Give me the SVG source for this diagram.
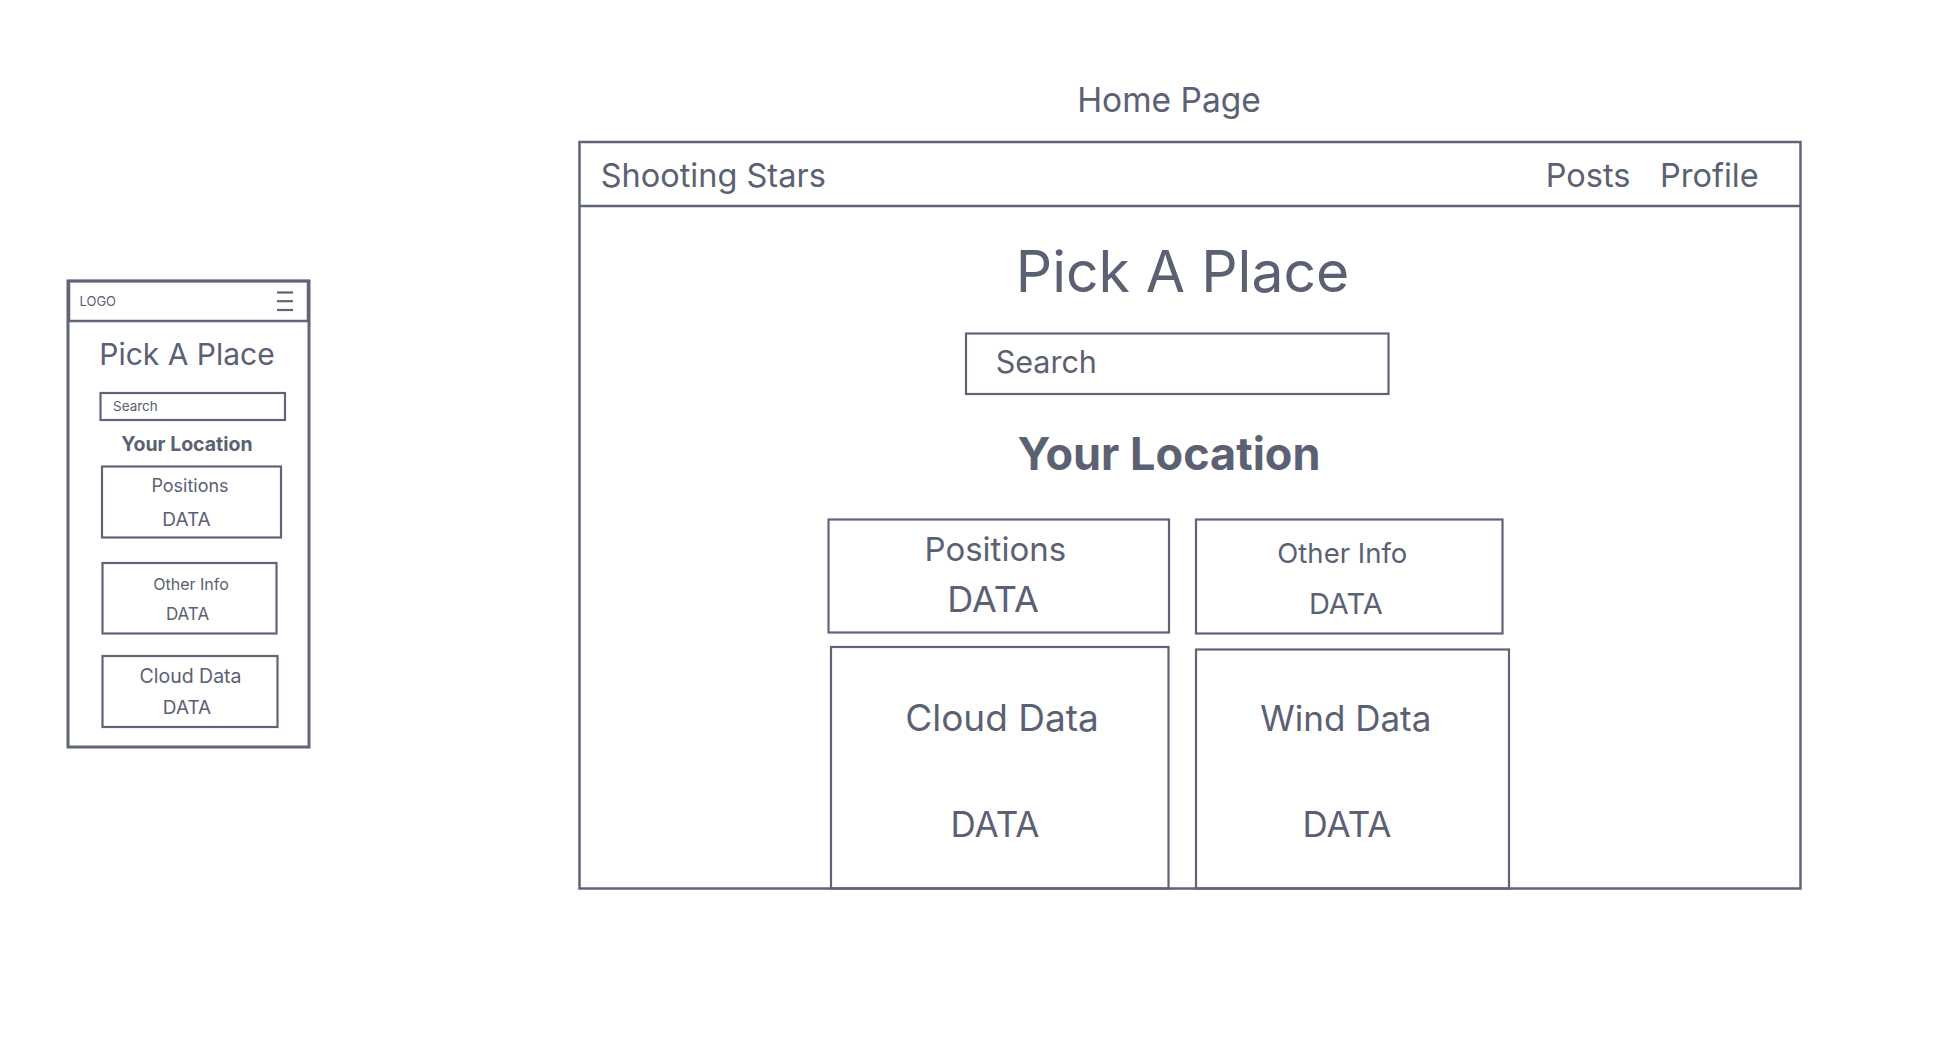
<svg xmlns="http://www.w3.org/2000/svg" width="1948" height="1054" viewBox="0 0 1948 1054">
<style>
.box{fill:none;stroke:#5f6577;stroke-width:2.2}
.frame{fill:none;stroke:#5f6577;stroke-width:2.5}
.t{font-family:Inter,"Noto Sans",sans-serif;fill:#5b6173}
.m{text-anchor:middle}
.b{font-weight:700}
</style>
<rect width="1948" height="1054" fill="#ffffff"/>
<g id="mobile">
<rect class="frame" x="68" y="281" width="241" height="466" style="stroke-width:3"/>
<rect class="frame" x="69" y="281" width="239" height="40"/>
<text class="t" x="79.5" y="305.5" font-size="13">LOGO</text>
<line class="box" x1="277" y1="292.5" x2="293" y2="292.5"/>
<line class="box" x1="277" y1="301.2" x2="293" y2="301.2"/>
<line class="box" x1="277" y1="310" x2="293" y2="310"/>
<text class="t m" x="187" y="365" font-size="30">Pick A Place</text>
<rect class="box" x="100.5" y="393" width="184.5" height="27"/>
<text class="t" x="113" y="410.5" font-size="13.5">Search</text>
<text class="t m b" x="187" y="450.5" font-size="19.5">Your Location</text>
<rect class="box" x="102" y="466.5" width="179" height="71"/>
<text class="t m" x="190" y="492" font-size="18">Positions</text>
<text class="t m" x="186.5" y="525.5" font-size="19">DATA</text>
<rect class="box" x="102.5" y="563" width="174" height="70.5"/>
<text class="t m" x="191" y="589.5" font-size="16">Other Info</text>
<text class="t m" x="187.5" y="619.5" font-size="17">DATA</text>
<rect class="box" x="102.5" y="656" width="175" height="71"/>
<text class="t m" x="190.5" y="682.5" font-size="19.5">Cloud Data</text>
<text class="t m" x="187" y="713.5" font-size="19">DATA</text>
</g>
<g id="home-title">
<text class="t m" x="1169" y="111.7" font-size="33.5">Home Page</text>
</g>
<g id="desktop">
<rect class="frame" x="579.5" y="142" width="1221" height="746.5"/>
<line class="frame" x1="579.5" y1="206" x2="1800.5" y2="206"/>
<text class="t" x="600.7" y="186.7" font-size="32.5">Shooting Stars</text>
<text class="t" x="1545.7" y="186.7" font-size="32.5">Posts</text>
<text class="t" x="1660" y="186.7" font-size="32.5">Profile</text>
<text class="t m" x="1182.5" y="291.7" font-size="57">Pick A Place</text>
<rect class="box" x="966" y="333.5" width="422.5" height="60.5"/>
<text class="t" x="995.7" y="373.3" font-size="30.5">Search</text>
<text class="t m b" x="1169" y="470" font-size="45">Your Location</text>
</g>
<g id="positions">
<rect class="box" x="828.5" y="519.5" width="340.5" height="113"/>
<text class="t m" x="995.3" y="560.7" font-size="33">Positions</text>
<text class="t m" x="993" y="612.3" font-size="36">DATA</text>
</g>
<g id="other-info">
<rect class="box" x="1196" y="519.5" width="306.5" height="114"/>
<text class="t m" x="1342.3" y="563.3" font-size="27.5">Other Info</text>
<text class="t m" x="1345.8" y="614.3" font-size="29">DATA</text>
</g>
<g id="cloud-data">
<rect class="box" x="831" y="647" width="337.5" height="241.5"/>
<text class="t m" x="1002" y="731" font-size="37">Cloud Data</text>
<text class="t m" x="995" y="837.3" font-size="35">DATA</text>
</g>
<g id="wind-data">
<rect class="box" x="1196" y="649.5" width="313" height="239"/>
<text class="t m" x="1345.8" y="731" font-size="35">Wind Data</text>
<text class="t m" x="1347" y="837.3" font-size="35">DATA</text>
</g>
<g id="connectors"></g>
</svg>
